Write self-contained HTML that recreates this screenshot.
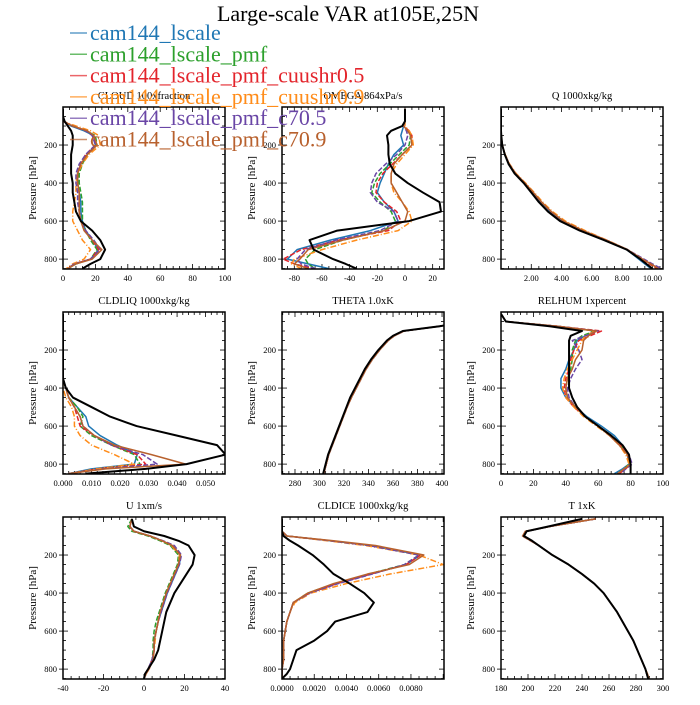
<!DOCTYPE html>
<html><head><meta charset="utf-8"><style>
body{margin:0;background:#fff;}
svg text{font-family:"Liberation Serif","DejaVu Serif",serif;}
</style></head><body>
<svg id="fig" width="700" height="700" viewBox="0 0 700 700" xmlns="http://www.w3.org/2000/svg">
<text x="348" y="21" font-size="22" text-anchor="middle">Large-scale VAR at105E,25N</text>
<g id="panels"></g>
<g id="legend"></g>
</svg>
<script>
const P = [10,50,75,100,125,150,200,250,300,350,400,450,500,550,600,650,700,750,800,825,850];
const seriesNames = ["cam144_lscale","cam144_lscale_pmf","cam144_lscale_pmf_cuushr0.5","cam144_lscale_pmf_cuushr0.9","cam144_lscale_pmf_c70.5","cam144_lscale_pmf_c70.9","obs"];

const cloudBlue=[0,0,0,5,13,19,20,15,11,9,9,10,11,11,12,14,18,22,17,8,3];
const cloudGreen=[0,0,0,6,14,20,21,15,12,10,10,11,12,12,12,14,17,21,17,8,3];
const cloudRed=[0,0,0,6,14,19,20,14,11,9,9,10,10,10,11,14,18,22,17,7,3];
const cloudOrange=[0,0,0,8,17,22,23,16,12,9,8,8,7,6,6,9,12,17,13,6,2];
const cloudPurple=[0,0,0,6,14,18,20,14,10,8,8,9,9,10,11,14,19,23,17,7,3];
const cloudBrown=[0,0,0,6,15,19,21,15,11,9,9,10,10,10,11,13,18,24,18,8,3];
const cloudObs=[0,0,1,3,5,6,6,5,5,5,6,6,7,8,11,18,23,26,23,17,12];

const omegaBlue=[0,0,0,-1,-2,-3,-1,-8,-12,-15,-18,-20,-15,-8,-5,-25,-54,-78,-85,-70,-55];
const omegaGreen=[0,0,0,-1,2,4,3,-4,-11,-18,-22,-24,-18,-10,-7,-15,-45,-65,-72,-70,-65];
const omegaRed=[0,0,0,-1,3,5,5,-2,-9,-16,-20,-21,-15,-6,-3,-12,-48,-75,-88,-80,-65];
const omegaOrange=[0,0,0,0,3,5,6,0,-6,-10,-10,-8,-2,3,5,-5,-35,-60,-80,-82,-75];
const omegaPurple=[0,0,0,-1,1,2,0,-6,-14,-21,-24,-25,-20,-8,-5,-18,-50,-72,-78,-75,-65];
const omegaBrown=[0,0,0,-1,2,4,5,-2,-8,-10,-10,-6,-2,2,0,-15,-45,-70,-76,-80,-70];
const omegaObs=[0,0,0,-2,-10,-13,-12,-12,-11,-7,2,13,25,26,3,-49,-69,-66,-52,-43,-35];

const qBlue=[0,0,0,0,0,0.02,0.08,0.25,0.52,0.95,1.55,2.1,2.6,3.25,4.05,5.35,6.9,8.3,9.1,9.5,9.9];
const qGreen=[0,0,0,0,0,0.02,0.08,0.26,0.53,0.95,1.55,2.1,2.65,3.3,4.1,5.4,6.95,8.35,9.3,9.8,10.3];
const qRed=[0,0,0,0,0,0.02,0.08,0.26,0.53,0.96,1.56,2.12,2.66,3.3,4.1,5.4,6.95,8.35,9.3,9.8,10.3];
const qOrange=[0,0,0,0,0,0.02,0.09,0.28,0.57,1.0,1.62,2.2,2.75,3.4,4.25,5.55,7.0,8.35,9.3,9.9,10.4];
const qPurple=[0,0,0,0,0,0.02,0.08,0.26,0.54,0.96,1.56,2.12,2.66,3.3,4.1,5.4,6.95,8.35,9.45,10.0,10.6];
const qBrown=[0,0,0,0,0,0.02,0.08,0.26,0.54,0.97,1.58,2.14,2.68,3.32,4.12,5.42,6.95,8.35,9.35,9.9,10.4];
const qObs=[0,0,0,0,0,0.02,0.08,0.25,0.5,0.9,1.5,2.0,2.5,3.1,3.9,5.2,6.8,8.3,9.2,9.6,10.0];

const liqBlue=[0,0,0,0,0,0,0,0,0,0,0.001,0.002,0.005,0.008,0.009,0.013,0.019,0.026,0.025,0.010,0.002];
const liqGreen=[0,0,0,0,0,0,0,0,0,0,0.001,0.002,0.005,0.007,0.006,0.010,0.017,0.025,0.027,0.012,0.002];
const liqRed=[0,0,0,0,0,0,0,0,0,0,0.001,0.002,0.004,0.005,0.006,0.011,0.017,0.026,0.029,0.012,0.002];
const liqOrange=[0,0,0,0,0,0,0,0,0,0,0.000,0.001,0.003,0.004,0.004,0.006,0.010,0.018,0.025,0.012,0.002];
const liqPurple=[0,0,0,0,0,0,0,0,0,0,0.001,0.002,0.004,0.006,0.007,0.011,0.017,0.028,0.033,0.014,0.002];
const liqBrown=[0,0,0,0,0,0,0,0,0,0,0.001,0.002,0.004,0.006,0.007,0.011,0.018,0.031,0.043,0.015,0.002];
const liqObs=[0,0,0,0,0,0,0,0,0,0,0.001,0.0035,0.010,0.0165,0.0258,0.040,0.054,0.057,0.0433,0.029,0.008];

const thBlue=[440,420,398,369,361,356,349,343,338,334,330,326,322.5,319.5,316.5,313.5,310.5,307.5,305.5,304.5,303.5];
const thGreen=[440,420,398,369,361,356,349,343,338,334,330,326,322.5,319.5,316.5,313.5,310.5,307.5,305.5,304.5,303.5];
const thRed=[440,420,398,369,361,356,349,343,338,334,330,326,322.5,319.5,316.5,313.5,310.5,307.5,305.5,304.5,303.5];
const thOrange=[440,420,398,369,361,356,349,343,338,334,330,326,322.5,319.5,316.5,313.5,310.5,307.5,305.5,304.5,303.5];
const thPurple=[440,420,398,369,361,356,349,343,338,334,330,326,322.5,319.5,316.5,313.5,310.5,307.5,305.5,304.5,303.5];
const thBrown=[440,420,398,369,361,356,349,343,338,334,330,326,322.5,319.5,316.5,313.5,310.5,307.5,305.5,304.5,303.5];
const thObs=[440,420,398,368,360,355,348,342,337,333,329,325,322,319,316,313,310,307,305,304,303];

const rhBlue=[0,3,35,58,52,47,45,42,40,37,37,40,46,53,62,70,75,78,79,75,70];
const rhGreen=[0,3,35,58,50,46,44,44,43,41,40,41,46,52,60,68,74,78,79,76,72];
const rhRed=[0,3,35,62,55,48,45,43,42,40,39,40,45,52,60,68,74,78,80,77,73];
const rhOrange=[0,3,35,58,52,50,47,44,41,39,38,40,45,51,59,67,73,77,79,76,72];
const rhPurple=[0,3,35,60,52,44,48,50,46,43,41,42,46,52,60,68,75,79,81,77,74];
const rhBrown=[0,3,35,59,54,51,50,46,44,41,40,41,46,52,60,67,73,78,80,76,72];
const rhObs=[0,3,30,50,43,42,42,42,42,42,42,44,47,52,60,68,75,79,80,80,80];

const uBlue=[-6,-7,-5,3,9,14,18,17.5,15.5,13.5,11.5,10,8.5,7,6,5,5,4,2,1,0];
const uGreen=[-6,-8,-6,2,8,13,17,16.5,14.5,12.5,10.5,9,7.5,6,5,4.5,4.5,4,2,1,0];
const uRed=[-6,-7,-5,3,9,14,18,17,15,13,11,9.5,8,7,6,5,5,4,2,1,0];
const uOrange=[-6,-7,-5,3,9,13.5,17.5,17,15,13,11,9.5,8,7,6,5.5,5,4.5,2.5,1,0];
const uPurple=[-6,-7,-5,3,9.5,15,18.5,17.5,15.5,13.5,11.5,10,8.5,7,6,5,5,4,2,1,0];
const uBrown=[-6,-7,-5,3,9,14,18,17,15,13,11,9.5,8,7,6,5,5,4.5,2.5,1,0];
const uObs=[-6,-5,0,10,17,22,25,24,21,18,15,13,11,10,9,8,7,5,2,0.5,0];

const iceBlue=[0,0,0,0.0003,0.003,0.0055,0.0086,0.0077,0.0055,0.0034,0.0017,0.0007,0.0005,0.0003,0.0002,0.0001,0.0001,0.0001,0,0,0];
const iceGreen=[0,0,0,0.0003,0.003,0.0055,0.0085,0.0076,0.0054,0.0033,0.0016,0.0007,0.0005,0.0003,0.0002,0.0001,0.0001,0.0001,0,0,0];
const iceRed=[0,0,0,0.0003,0.003,0.0055,0.0086,0.0077,0.0055,0.0034,0.0017,0.0007,0.0005,0.0003,0.0002,0.0001,0.0001,0.0001,0,0,0];
const iceOrange=[0,0,0,0.0003,0.0028,0.0052,0.0085,0.0100,0.0067,0.0040,0.0018,0.0008,0.0005,0.0003,0.0002,0.0001,0.0001,0.0001,0,0,0];
const icePurple=[0,0,0,0.0003,0.003,0.0054,0.0085,0.0076,0.0056,0.0035,0.0017,0.0007,0.0005,0.0003,0.0002,0.0001,0.0001,0.0001,0,0,0];
const iceBrown=[0,0,0,0.0003,0.0032,0.0058,0.0088,0.0079,0.0053,0.0032,0.0016,0.0007,0.0005,0.0003,0.0002,0.0001,0.0001,0.0001,0,0,0];
const iceObs=[0,0,0,0.0001,0.0005,0.001,0.0019,0.0026,0.0032,0.0042,0.0051,0.0057,0.0053,0.0033,0.0028,0.002,0.0009,0.0007,0.0005,0.0003,0];

const tBlue=[250,216,199,196,202,208,218,230,240,249,256,261,266,270,274,278,281,284,287,288,289];
const tGreen=[250,216,199,196,202,208,218,230,240,249,256,261,266,270,274,278,281,284,287,288,289];
const tRed=[250,216,199,196,202,208,218,230,240,249,256,261,266,270,274,278,281,284,287,288,289];
const tOrange=[250,216,199,196,202,208,218,230,240,249,256,261,266,270,274,278,281,284,287,288.5,289.5];
const tPurple=[250,216,199,196,202,208,218,230,240,249,256,261,266,270,274,278,281,284,287,288,289];
const tBrown=[250,216,198,196,202,208,218,230,240,249,256,261,266,270,274,278,281,284,287,288.5,289.5];
const tObs=[240,215,199,197,203,208,218,230,240,249,256,261,266,270,274,278,281,284,287,288,289];

const yTicks=[200,400,600,800];
const cloudTicks=["0","20","40","60","80","100"];
const omegaTicks=["-80","-60","-40","-20","0","20"];
const qTicks=["2.00","4.00","6.00","8.00","10.00"];
const liqTicks=["0.000","0.010","0.020","0.030","0.040","0.050"];
const thTicks=["280","300","320","340","360","380","400"];
const rhTicks=["0","20","40","60","80","100"];
const uTicks=["-40","-20","0","20","40"];
const iceTicks=["0.0000","0.0020","0.0040","0.0060","0.0080"];
const tTicks=["180","200","220","240","260","280","300"];

const colors=["#1f77b4","#2ca02c","#e3242b","#ff8c1a","#6a46a6","#b8612e","#000000"];
const dashes=[null,"5,2","5,2","6,2,1,2","5,2",null,null];

const panels=[
 {name:"cloud",title:"CLOUD  100xfraction",col:0,row:0,xmin:0,xmax:100,ticks:cloudTicks,minor:5,series:[cloudBlue,cloudGreen,cloudRed,cloudOrange,cloudPurple,cloudBrown,cloudObs]},
 {name:"omega",title:"OMEGA  864xPa/s",col:1,row:0,xmin:-88.9,xmax:28.2,ticks:omegaTicks,minor:4,series:[omegaBlue,omegaGreen,omegaRed,omegaOrange,omegaPurple,omegaBrown,omegaObs]},
 {name:"q",title:"Q  1000xkg/kg",col:2,row:0,xmin:0,xmax:10.7,ticks:qTicks,minor:4,series:[qBlue,qGreen,qRed,qOrange,qPurple,qBrown,qObs]},
 {name:"cldliq",title:"CLDLIQ  1000xkg/kg",col:0,row:1,xmin:0,xmax:0.0568,ticks:liqTicks,minor:5,series:[liqBlue,liqGreen,liqRed,liqOrange,liqPurple,liqBrown,liqObs]},
 {name:"theta",title:"THETA  1.0xK",col:1,row:1,xmin:269.4,xmax:401.6,ticks:thTicks,minor:4,series:[thBlue,thGreen,thRed,thOrange,thPurple,thBrown,thObs]},
 {name:"relhum",title:"RELHUM  1xpercent",col:2,row:1,xmin:0,xmax:100,ticks:rhTicks,minor:5,series:[rhBlue,rhGreen,rhRed,rhOrange,rhPurple,rhBrown,rhObs]},
 {name:"u",title:"U  1xm/s",col:0,row:2,xmin:-40,xmax:40,ticks:uTicks,minor:5,series:[uBlue,uGreen,uRed,uOrange,uPurple,uBrown,uObs]},
 {name:"cldice",title:"CLDICE  1000xkg/kg",col:1,row:2,xmin:0,xmax:0.01005,ticks:iceTicks,minor:4,series:[iceBlue,iceGreen,iceRed,iceOrange,icePurple,iceBrown,iceObs]},
 {name:"t",title:"T  1xK",col:2,row:2,xmin:180,xmax:300,ticks:tTicks,minor:4,series:[tBlue,tGreen,tRed,tOrange,tPurple,tBrown,tObs]}
];

const NS="http://www.w3.org/2000/svg";
function mk(tag,attrs,parent){const e=document.createElementNS(NS,tag);for(const k in attrs)e.setAttribute(k,attrs[k]);if(parent)parent.appendChild(e);return e;}
const root=document.getElementById("panels");
const colX=[63,282,501], rowY=[107,312,517], W=162, H=162, PMAX=852;

panels.forEach((pn,pi)=>{
  const L=colX[pn.col], T=rowY[pn.row];
  const xs=v=>L+(v-pn.xmin)/(pn.xmax-pn.xmin)*W;
  const ys=p=>T+p/PMAX*H;
  const g=mk("g",{},root);
  
  
  const cp=mk("clipPath",{id:"cp"+pi},g);
  mk("rect",{x:L,y:T,width:W,height:H},cp);
  const t=mk("text",{x:L+W/2,y:T-8,"font-size":"10.5","text-anchor":"middle"},g);
  t.textContent=pn.title;
  
  
  const yt=mk("text",{x:0,y:0,"font-size":"11","text-anchor":"middle",transform:`translate(${L-27},${T+H/2}) rotate(-90)`},g);
  yt.textContent="Pressure [hPa]";
  
  
  // y ticks
  for(let p=50;p<PMAX;p+=50){
    const y=ys(p), major=p%200===0;
    const len=major?5:3;
    mk("line",{x1:L,x2:L+len,y1:y,y2:y,stroke:"#000","stroke-width":0.8},g);
    mk("line",{x1:L+W,x2:L+W-len,y1:y,y2:y,stroke:"#000","stroke-width":0.8},g);
    if(major) mk("line",{x1:L-4,x2:L,y1:y,y2:y,stroke:"#000","stroke-width":0.8},g);
  }
  yTicks.forEach(p=>{
    const tx=mk("text",{x:L-6,y:ys(p)+3,"font-size":"8.5","text-anchor":"end"},g);
    tx.textContent=String(p);
    
    
  });
  // x ticks
  const tv=pn.ticks.map(Number);
  const step=tv[1]-tv[0];
  const mstep=step/pn.minor;
  for(let v=tv[0]-step*3;v<=pn.xmax+1e-12;v+=mstep){
    if(v<pn.xmin-1e-12) continue;
    const k=Math.round((v-tv[0])/mstep);
    const major=k%pn.minor===0;
    const x=xs(v), len=major?5:3;
    mk("line",{x1:x,x2:x,y1:T+H,y2:T+H-len,stroke:"#000","stroke-width":0.8},g);
    mk("line",{x1:x,x2:x,y1:T,y2:T+len,stroke:"#000","stroke-width":0.8},g);
  }
  pn.ticks.forEach((lab,i)=>{
    const tx=mk("text",{x:xs(tv[i]),y:T+H+12,"font-size":"8.5","text-anchor":"middle"},g);
    tx.textContent=lab;
    
    
  });
  // series
  const sg=mk("g",{"clip-path":`url(#cp${pi})`},g);
  pn.series.forEach((arr,si)=>{
    const d=arr.map((v,i)=>(i?"L":"M")+xs(v).toFixed(2)+","+ys(P[i]).toFixed(2)).join("");
    const path=mk("path",{d:d,fill:"none",stroke:colors[si],"stroke-width":si===6?2:1.5,"stroke-linejoin":"round"},sg);
    if(dashes[si]) path.setAttribute("stroke-dasharray",dashes[si]);
    
    
  });
  const fr=mk("rect",{x:L,y:T,width:W,height:H,fill:"none",stroke:"#000","stroke-width":1.5},g);
  
  
});

// legend
const lg=document.getElementById("legend");
for(let i=0;i<6;i++){
  const y=33+i*21.3;
  const e=mk("g",{},lg);
  
  
  mk("line",{x1:70,x2:87,y1:y,y2:y,stroke:colors[i],"stroke-width":1.5,opacity:0.7},e);
  const tx=mk("text",{x:90,y:y+7,"font-size":"22",fill:colors[i]},e);
  tx.textContent=seriesNames[i];
}
</script>
</body></html>
